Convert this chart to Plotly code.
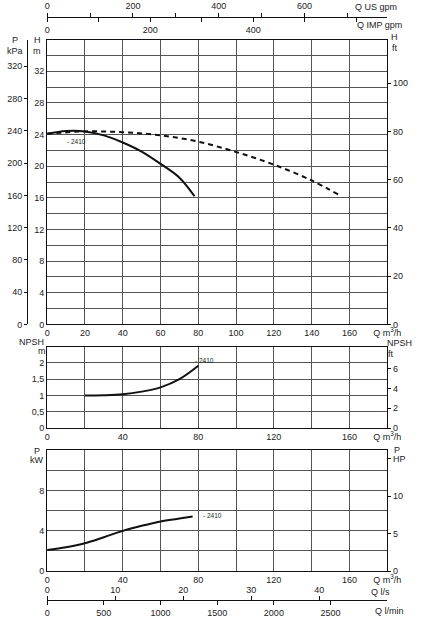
import plotly.graph_objects as go

# pump curve 2410, flow Q in m3/h
q_h = [0, 10, 20, 30, 40, 50, 60, 70, 78]
h_m = [24.1, 24.45, 24.4, 23.9, 23.0, 21.85, 20.3, 18.55, 16.2]

# dashed curve (two pumps in parallel)
q_h2 = [0, 20, 40, 60, 80, 100, 120, 140, 155]
h_m2 = [24.1, 24.4, 24.3, 23.9, 23.1, 21.8, 20.2, 18.2, 16.3]

q_npsh = [20, 30, 40, 50, 60, 70, 80]
npsh_m = [1.0, 1.01, 1.04, 1.12, 1.25, 1.5, 1.91]

q_p = [0, 10, 20, 30, 40, 50, 60, 70, 77]
p_kw = [2.1, 2.37, 2.77, 3.37, 4.0, 4.5, 4.93, 5.22, 5.43]

curve_name = "2410"

W, H = 431, 627
FONT = "Liberation Sans, Arial, sans-serif"
GRID = "#555"
TXT = "#222"


def px(x):
    return x / W


def py(y):
    return 1 - y / H


xdom = [px(46), px(400)]
Q_LABEL = "Q m<sup>3</sup>/h"

fig = go.Figure()

fig.add_trace(go.Scatter(x=q_h, y=h_m, mode="lines", line=dict(color="#111", width=2, shape="spline"),
                         xaxis="x", yaxis="y", hoverinfo="skip"))
fig.add_trace(go.Scatter(x=q_h2, y=h_m2, mode="lines",
                         line=dict(color="#111", width=2, dash="5px,4px", shape="spline"),
                         xaxis="x", yaxis="y", hoverinfo="skip"))
fig.add_trace(go.Scatter(x=q_npsh, y=npsh_m, mode="lines", line=dict(color="#111", width=2, shape="spline"),
                         xaxis="x4", yaxis="y4", hoverinfo="skip"))
fig.add_trace(go.Scatter(x=q_p, y=p_kw, mode="lines", line=dict(color="#111", width=2, shape="spline"),
                         xaxis="x5", yaxis="y6", hoverinfo="skip"))

# empty traces so the unit-conversion axes get drawn
for xa, ya in [("x", "y2"), ("x", "y3"), ("x2", "y"), ("x3", "y"),
               ("x4", "y5"), ("x5", "y7"), ("x6", "y6"), ("x7", "y6")]:
    fig.add_trace(go.Scatter(x=[None], y=[None], mode="lines", xaxis=xa, yaxis=ya,
                             hoverinfo="skip", showlegend=False))

frame = dict(showline=True, linecolor="#111", linewidth=1, mirror=True, zeroline=False,
             showgrid=True, gridcolor=GRID, gridwidth=1, ticks="", tickfont=dict(size=9, color=TXT))
side = dict(showline=True, linecolor="#111", linewidth=1, zeroline=False, showgrid=False,
            ticks="outside", ticklen=3, tickcolor="#111", tickfont=dict(size=9, color=TXT))


def grid_minor(step):
    return dict(dtick=step, tick0=0, showgrid=True, gridcolor=GRID, gridwidth=1, ticks="")


def tick_minor(step):
    return dict(dtick=step, tick0=0, showgrid=False, ticks="outside", ticklen=4, tickcolor="#111")


fig.update_layout(
    width=W, height=H,
    margin=dict(l=0, r=0, t=0, b=0),
    paper_bgcolor="white", plot_bgcolor="white",
    showlegend=False,
    font=dict(family=FONT, size=9, color=TXT),
    # head chart
    xaxis=dict(frame, domain=xdom, anchor="y", range=[0, 180],
               tickvals=list(range(0, 181, 20)),
               ticktext=[str(v) for v in range(0, 161, 20)] + [Q_LABEL]),
    yaxis=dict(frame, domain=[py(327), py(40)], anchor="x", range=[0, 36],
               tickvals=list(range(0, 33, 4)), minor=grid_minor(2)),
    yaxis2=dict(side, overlaying="y", anchor="free", position=px(25), side="left",
                range=[0, 36 * 9.80665], tickvals=list(range(0, 321, 40))),
    yaxis3=dict(side, overlaying="y", anchor="x", side="right",
                range=[0, 36 / 0.3048], tickvals=list(range(0, 101, 20))),
    xaxis2=dict(side, overlaying="x", anchor="free", position=py(17), side="top",
                range=[0, 180 * 4.402868], tickvals=[0, 200, 400, 600], ticklen=4,
                minor=tick_minor(100)),
    xaxis3=dict(side, overlaying="x", anchor="free", position=py(17), side="bottom",
                range=[0, 180 * 3.666154], tickvals=[0, 200, 400], ticklen=4,
                minor=tick_minor(100)),
    # npsh chart
    xaxis4=dict(frame, domain=xdom, anchor="y4", range=[0, 180],
                tickvals=[0, 40, 80, 120, 160, 180], ticktext=["0", "40", "80", "120", "160", Q_LABEL],
                minor=grid_minor(20)),
    yaxis4=dict(frame, domain=[py(431.7), py(349.3)], anchor="x4", range=[0, 2.5],
                tickvals=[0, 0.5, 1, 1.5, 2], ticktext=["0", "0,5", "1", "1,5", "2"],
                minor=grid_minor(0.5)),
    yaxis5=dict(side, overlaying="y4", anchor="x4", side="right",
                range=[0, 2.5 / 0.3048], tickvals=[0, 2, 4, 6]),
    # power chart
    xaxis5=dict(frame, domain=xdom, anchor="y6", range=[0, 180],
                tickvals=[0, 40, 80, 120, 160, 180], ticktext=["0", "40", "80", "120", "160", Q_LABEL],
                minor=grid_minor(20)),
    yaxis6=dict(frame, domain=[py(575.7), py(454)], anchor="x5", range=[0, 12],
                tickvals=[0, 4, 8], minor=grid_minor(2)),
    yaxis7=dict(side, overlaying="y6", anchor="x5", side="right",
                range=[0, 12 / 0.7457], tickvals=[0, 5, 10, 15], ticktext=["0", "5", "10", "HP"]),
    xaxis6=dict(side, overlaying="x5", anchor="free", position=py(605), side="top",
                range=[0, 50], tickvals=[0, 10, 20, 30, 40], ticklen=4),
    xaxis7=dict(side, overlaying="x5", anchor="free", position=py(605), side="bottom",
                range=[0, 3000], tickvals=list(range(0, 2501, 500)), ticklen=4),
)

labels = [
    ("P", 12, 40), ("kPa", 12, 51), ("H", 36, 40), ("m", 35, 51),
    ("H", 408, 37), ("ft", 408, 48),
    ("NPSH", 30, 345), ("m", 41, 354), ("NPSH", 413, 346), ("ft", 404, 357),
    ("P", 35, 455), ("kW", 35, 464), ("P", 410, 454),
    ("Q US gpm", 388, 7), ("Q IMP gpm", 392, 25),
    ("Q l/s", 393, 597), ("Q l/min", 402, 616),
]
for t, x, y in labels:
    fig.add_annotation(text=t, x=px(x), y=py(y), xref="paper", yref="paper",
                       showarrow=False, xanchor="center", yanchor="middle",
                       font=dict(size=9, color=TXT))

# curve names
for xr, yr, qx, vy in [("x", "y", 9.5, 23.1), ("x4", "y4", 77.3, 2.08), ("x5", "y6", 81.5, 5.5)]:
    fig.add_annotation(text="- " + curve_name, x=qx, y=vy, xref=xr, yref=yr, showarrow=False,
                       xanchor="left", yanchor="middle", font=dict(size=6.5, color=TXT))

# page body has a default margin; drop it so the figure sits at 0,0
fig.write_html("out.html", config={"displayModeBar": False},
               post_script="document.body.style.margin='0';")
